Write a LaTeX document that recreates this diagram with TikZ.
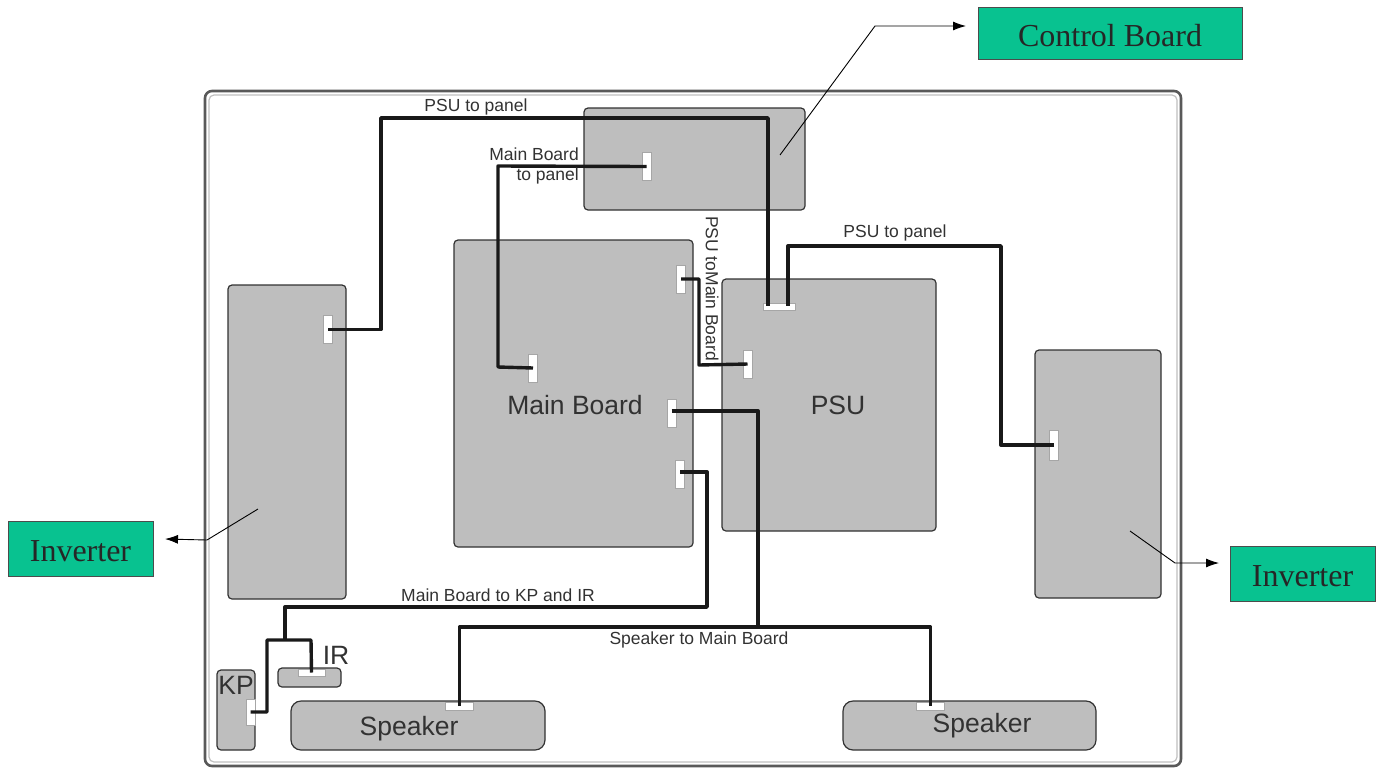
\documentclass[tikz,border=0pt]{standalone}
\usepackage{fontspec}
\setmainfont{Liberation Sans}
\newfontfamily\calloutfont{Liberation Serif}
\usetikzlibrary{arrows.meta}

\definecolor{boardgrey}{RGB}{190,190,190}
\definecolor{calloutgreen}{RGB}{8,194,144}
\definecolor{inkgrey}{RGB}{50,50,50}

\begin{document}
\begin{tikzpicture}[
  x=1pt, y=-1pt,
  text=inkgrey,
  board/.style={draw=inkgrey, fill=boardgrey, rounded corners=4pt, line width=1.2pt,
    inner sep=0pt},
  boardlabel/.style={inner sep=0pt, font=\fontsize{26.5}{26.5}\selectfont},
  port/.style={draw=black!35, fill=white, line width=0.8pt, inner sep=0pt},
  portv/.style={port, minimum width=9pt, minimum height=28pt},
  porth/.style={port, minimum width=28pt, minimum height=8pt},
  wire/.style={draw=black!90, line width=3.4pt, line join=round},
  pointer/.style={black, line width=0.9pt, -{Latex[length=13pt,width=9pt]}},
  callout/.style={draw=black!70, line width=1pt, fill=calloutgreen, inner sep=0pt, text=black!85,
    text height=28pt, text depth=2pt, font=\calloutfont\fontsize{32}{32}\selectfont},
  tag/.style={inner sep=0pt, align=right, font=\fontsize{17.5}{20}\selectfont}
]
  \useasboundingbox (0,0) rectangle (1380,769);

  \draw[draw=black!65, line width=2.6pt, rounded corners=7pt] (205,91) rectangle (1181,766);
  \draw[draw=black!25, line width=1.2pt, rounded corners=5pt] (209,95) rectangle (1177,762);

  \node[board, minimum width=221pt, minimum height=102pt] (control) at (694.5,159) {};
  \node[board, minimum width=239pt, minimum height=307pt] (mainboard) at (573.5,393.5) {};
  \node[board, minimum width=214pt, minimum height=252pt] (psu) at (829,405) {};
  \node[board, minimum width=118pt, minimum height=314pt] (invleft) at (287,442) {};
  \node[board, minimum width=126pt, minimum height=248pt] (invright) at (1098,474) {};
  \node[board, minimum width=38pt, minimum height=80pt] (kp) at (236,710) {};
  \node[board, minimum width=63pt, minimum height=19pt] (ir) at (309.5,677.5) {};
  \node[board, rounded corners=10pt, minimum width=254pt, minimum height=49pt] (speakerleft) at (418,725.5) {};
  \node[board, rounded corners=10pt, minimum width=253pt, minimum height=49pt] (speakerright) at (969.5,725.5) {};

  \node[boardlabel] (mainlabel) at (575,405) {Main Board};
  \node[boardlabel] (psulabel) at (838,405) {PSU};
  \node[boardlabel] (kplabel) at (236,685) {KP};
  \node[boardlabel] (irlabel) at (336,655) {IR};
  \node[boardlabel] (speakerlabelleft) at (409,729) {Speaker};
  \node[boardlabel] (speakerlabelright) at (982,726) {Speaker};

  \node[portv] (portinvleft) at (328,329.5) {};
  \node[portv] (portcontrol) at (646.5,166.5) {};
  \node[portv] (portmaintop) at (681,279) {};
  \node[portv] (portmainpanel) at (533,368) {};
  \node[porth, minimum width=32pt, minimum height=7pt] (portpsutop) at (779,306.5) {};
  \node[portv] (portpsuleft) at (747.5,364) {};
  \node[portv] (portmainspeaker) at (671.5,413) {};
  \node[portv] (portmainkp) at (680,474.5) {};
  \node[portv, minimum height=30pt] (portinvright) at (1054,445) {};
  \node[portv, minimum height=26pt] (portkp) at (250.5,712) {};
  \node[porth, minimum width=27pt, minimum height=7pt] (portir) at (311.5,672.5) {};
  \node[porth] (portspeakerleft) at (459.5,706) {};
  \node[porth] (portspeakerright) at (930.5,706) {};

  \coordinate (psutopa) at (768,306);
  \coordinate (psutopb) at (788,306);
  \coordinate (mainspeakerend) at (671.5,411);
  \coordinate (mainkpend) at (680,472);
  \coordinate (kpjoin) at (285,640);
  \coordinate (speakerjoin) at (758,627);

  \draw[wire] (portinvleft.center) -- (381,329.5) -- (381,118) -- (768,118) -- (psutopa);
  \draw[wire] (portinvright.center) -- (1001,445) -- (1001,246) -- (788,246) -- (psutopb);
  \draw[wire] (portcontrol.center) -- (498,166) -- (498,367) -- (portmainpanel.center);
  \draw[wire] (portmaintop.center) -- (699,279) -- (699,365) -- (portpsuleft.center);
  \draw[wire] (mainspeakerend) -- (758,411) -- (speakerjoin);
  \draw[wire] (portspeakerleft.center) -- (459.5,627) -- (930.5,627) -- (portspeakerright.center);
  \draw[wire] (mainkpend) -- (707,472) -- (707,607) -- (285,607) -- (kpjoin);
  \draw[wire] (portkp.center) -- (267,712) -- (267,640) -- (311,640) -- (portir.center);

  \node[callout, minimum width=264pt, minimum height=52pt] (calloutcontrol) at (1110,33) {Control Board};
  \node[callout, minimum width=145pt, minimum height=55pt] (calloutleft) at (80.5,548.5) {Inverter};
  \node[callout, minimum width=145pt, minimum height=55pt] (calloutright) at (1302.5,573.5) {Inverter};

  \coordinate (pointcontrol) at (780,155);
  \coordinate (pointleft) at (258,509);
  \coordinate (pointright) at (1130,531);
  \coordinate (tipcontrol) at (966,26);
  \coordinate (tipleft) at (165,539);
  \coordinate (tipright) at (1219,563);

  \draw[pointer] (pointcontrol) -- (875,26) -- (tipcontrol);
  \draw[pointer] (pointleft) -- (207,540) -- (tipleft);
  \draw[pointer] (pointright) -- (1175,563) -- (tipright);

  \node[tag] (tagpanelleft) at (476,107) {PSU to panel};
  \node[tag, anchor=east] (tagmainpanel) at (579,166) {Main Board\\to panel};
  \node[tag, rotate=-90] (tagpsumain) at (712,288.5) {PSU toMain Board};
  \node[tag] (tagpanelright) at (895,233) {PSU to panel};
  \node[tag] (tagkpir) at (498,595) {Main Board to KP and IR};
  \node[tag] (tagspeaker) at (699,640) {Speaker to Main Board};
\end{tikzpicture}
\end{document}
